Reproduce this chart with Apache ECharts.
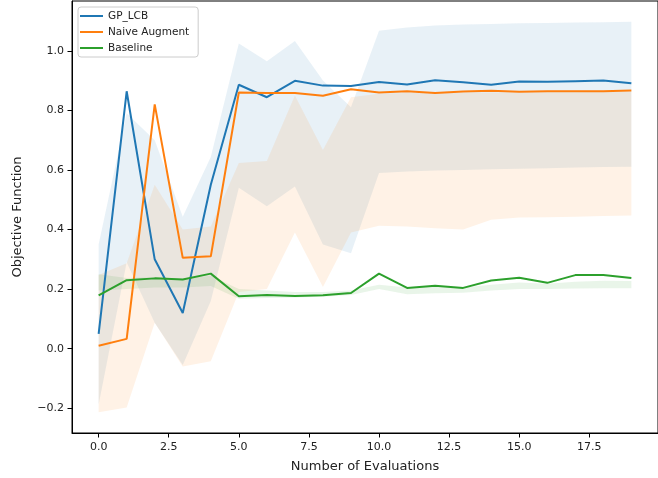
<!DOCTYPE html>
<html>
<head>
<meta charset="utf-8">
<script src="https://cdn.jsdelivr.net/npm/echarts@6/dist/echarts.min.js"></script>
<style>
  html, body { margin: 0; padding: 0; background: #fff; }
  #chart { width: 658px; height: 478px; }
</style>
</head>
<body>
<div id="chart"></div>
<script>
// evaluation index
const steps = [0, 1, 2, 3, 4, 5, 6, 7, 8, 9, 10, 11, 12, 13, 14, 15, 16, 17, 18, 19];

// GP_LCB mean and band
const gpMean  = [0.05, 0.864, 0.30, 0.12, 0.55, 0.886, 0.844, 0.899, 0.883, 0.882, 0.895, 0.887, 0.901, 0.894, 0.886, 0.897, 0.896, 0.898, 0.900, 0.891];
const gpUpper = [0.35, 0.79, 0.70, 0.443, 0.643, 1.024, 0.965, 1.033, 0.90, 0.81, 1.067, 1.078, 1.085, 1.088, 1.09, 1.092, 1.093, 1.095, 1.096, 1.097];
const gpLower = [-0.187, 0.29, 0.087, -0.055, 0.16, 0.54, 0.478, 0.544, 0.35, 0.32, 0.59, 0.595, 0.598, 0.60, 0.602, 0.604, 0.606, 0.608, 0.61, 0.611];

// Naive Augment mean and band
const naiveMean  = [0.01, 0.033, 0.82, 0.305, 0.31, 0.86, 0.858, 0.858, 0.849, 0.871, 0.86, 0.864, 0.858, 0.863, 0.866, 0.862, 0.864, 0.864, 0.864, 0.867];
const naiveUpper = [0.247, 0.287, 0.55, 0.40, 0.41, 0.623, 0.63, 0.85, 0.667, 0.844, 0.856, 0.858, 0.858, 0.859, 0.86, 0.86, 0.861, 0.861, 0.862, 0.862];
const naiveLower = [-0.213, -0.197, 0.087, -0.06, -0.042, 0.19, 0.20, 0.39, 0.207, 0.39, 0.413, 0.41, 0.404, 0.40, 0.433, 0.44, 0.441, 0.443, 0.445, 0.447];

// Baseline mean and band
const baseMean  = [0.179, 0.23, 0.236, 0.232, 0.252, 0.176, 0.18, 0.177, 0.179, 0.187, 0.252, 0.204, 0.211, 0.204, 0.229, 0.238, 0.221, 0.247, 0.247, 0.237];
const baseUpper = [0.25, 0.237, 0.24, 0.235, 0.245, 0.20, 0.195, 0.19, 0.19, 0.195, 0.215, 0.205, 0.21, 0.205, 0.215, 0.222, 0.218, 0.225, 0.228, 0.227];
const baseLower = [0.195, 0.20, 0.205, 0.205, 0.21, 0.168, 0.17, 0.172, 0.174, 0.18, 0.20, 0.183, 0.186, 0.188, 0.195, 0.20, 0.20, 0.202, 0.203, 0.203];

// tick positions
const xTicks = [0, 2.5, 5, 7.5, 10, 12.5, 15, 17.5];
const yTicks = [-0.2, 0, 0.2, 0.4, 0.6, 0.8, 1.0];

const FONT = "DejaVu Sans";

function bandSeries(name, upper, lower, fill) {
  return {
    name: name,
    type: "custom",
    silent: true,
    z: 1,
    data: steps.map((x, i) => [x, lower[i], upper[i]]),
    encode: { x: 0, y: [1, 2] },
    renderItem: function (params, api) {
      if (params.dataIndex !== 0) return null;
      const pts = [];
      for (let i = 0; i < steps.length; i++) pts.push(api.coord([steps[i], upper[i]]));
      for (let i = steps.length - 1; i >= 0; i--) pts.push(api.coord([steps[i], lower[i]]));
      return { type: "polygon", shape: { points: pts }, style: { fill: fill } };
    }
  };
}

function lineSeries(name, values, color) {
  return {
    name: name,
    type: "line",
    z: 3,
    symbol: "none",
    data: steps.map((x, i) => [x, values[i]]),
    lineStyle: { color: color, width: 2 },
    itemStyle: { color: color }
  };
}

const chart = echarts.init(document.getElementById("chart"));

chart.setOption({
  animation: false,
  backgroundColor: "#fff",
  textStyle: { fontFamily: FONT },
  grid: {
    left: 72, right: -11, top: 1, bottom: 42,
    show: true, borderColor: "#000", borderWidth: 1, backgroundColor: "transparent"
  },
  legend: {
    orient: "vertical",
    left: 78, top: 7,
    data: ["GP_LCB", "Naive Augment", "Baseline"],
    icon: "rect",
    itemWidth: 23, itemHeight: 2, itemGap: 4,
    padding: [3, 9, 3, 2],
    backgroundColor: "rgba(255,255,255,0.8)",
    borderColor: "#ccc", borderWidth: 1, borderRadius: 3,
    textStyle: { fontFamily: FONT, fontSize: 10.5, color: "#222", lineHeight: 12 }
  },
  xAxis: {
    type: "value",
    min: -0.95, max: 19.95,
    name: "Number of Evaluations",
    nameLocation: "middle",
    nameGap: 27,
    nameTextStyle: { fontFamily: FONT, fontSize: 13, color: "#222" },
    axisLine: { show: true, onZero: false, lineStyle: { color: "#000" } },
    axisTick: { show: true, length: 4.5, customValues: xTicks, lineStyle: { color: "#000" } },
    axisLabel: {
      customValues: xTicks, margin: 9,
      fontFamily: FONT, fontSize: 11, color: "#222",
      formatter: v => v.toFixed(1)
    },
    splitLine: { show: false }
  },
  yAxis: {
    type: "value",
    min: -0.283, max: 1.167,
    name: "Objective Function",
    nameLocation: "middle",
    nameGap: 48,
    nameTextStyle: { fontFamily: FONT, fontSize: 13, color: "#222" },
    axisLine: { show: true, onZero: false, lineStyle: { color: "#000" } },
    axisTick: { show: true, length: 4.5, customValues: yTicks, lineStyle: { color: "#000" } },
    axisLabel: {
      customValues: yTicks, margin: 8,
      fontFamily: FONT, fontSize: 11, color: "#222",
      formatter: v => v.toFixed(1).replace("-", "\u2212")
    },
    splitLine: { show: false }
  },
  series: [
    bandSeries("GP_LCB band", gpUpper, gpLower, "rgba(31,119,180,0.1)"),
    bandSeries("Naive Augment band", naiveUpper, naiveLower, "rgba(255,127,14,0.1)"),
    bandSeries("Baseline band", baseUpper, baseLower, "rgba(44,160,44,0.1)"),
    lineSeries("GP_LCB", gpMean, "#1f77b4"),
    lineSeries("Naive Augment", naiveMean, "#ff7f0e"),
    lineSeries("Baseline", baseMean, "#2ca02c")
  ]
});
</script>
</body>
</html>
